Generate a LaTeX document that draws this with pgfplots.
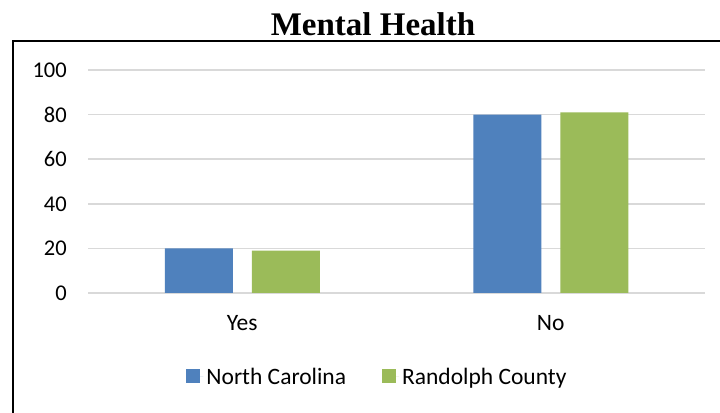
\documentclass[border=0pt]{standalone}
\usepackage{pgfplots}
\pgfplotsset{compat=1.18}
\usepackage{fontspec}
\setmainfont{Carlito}
\newfontfamily\titlefont{Liberation Serif}
\definecolor{ncblue}{RGB}{79,129,189}
\definecolor{rcgreen}{RGB}{155,187,89}
\definecolor{gridgray}{RGB}{217,217,217}
\begin{document}
\begin{tikzpicture}
\useasboundingbox (0,0) rectangle (720bp,413bp);
\fill[white] (0,0) rectangle (720bp,413bp);
\draw[line width=2bp] (13bp,-20bp) rectangle (740bp,372bp);
\node[font=\titlefont\bfseries\fontsize{33bp}{36bp}\selectfont, anchor=base, inner sep=0pt]
  at (373bp,377bp) {Mental Health};
\begin{axis}[
  at={(88bp,120bp)}, anchor=south west,
  width=617bp, height=223bp, scale only axis,
  ymin=0, ymax=100, xmin=-0.5, xmax=1.5,
  ytick={0,20,...,100},
  xtick={0,1}, xticklabels={Yes,No},
  axis line style={draw=none},
  major tick length=0pt,
  ymajorgrids, grid style={gridgray, line width=1.5bp},
  ybar=19bp, bar width=68bp,
  /pgf/number format/assume math mode=true,
  yticklabel style={font=\fontsize{22.5bp}{26bp}\selectfont, anchor=east, inner sep=0pt, xshift=-21bp},
  xticklabel style={font=\fontsize{23.5bp}{26bp}\selectfont, anchor=base, inner sep=0pt, yshift=-38bp},
  legend columns=2,
  legend style={draw=none, fill=none, at={(0.470,-0.376)}, anchor=center,
    font=\fontsize{23.5bp}{26bp}\selectfont,
    /tikz/every even column/.append style={column sep=33bp},
    nodes={inner sep=3bp}},
  legend image code/.code={\path (0bp,0bp) -- (17bp,0bp);
    \fill[#1] (0bp,-6bp) rectangle (14bp,8bp);},
]
\addplot[draw=none, fill=ncblue] coordinates {(0,20) (1,80)};
\addlegendentry{North Carolina}
\addplot[draw=none, fill=rcgreen] coordinates {(0,19) (1,81)};
\addlegendentry{Randolph County}
\end{axis}
\end{tikzpicture}
\end{document}
